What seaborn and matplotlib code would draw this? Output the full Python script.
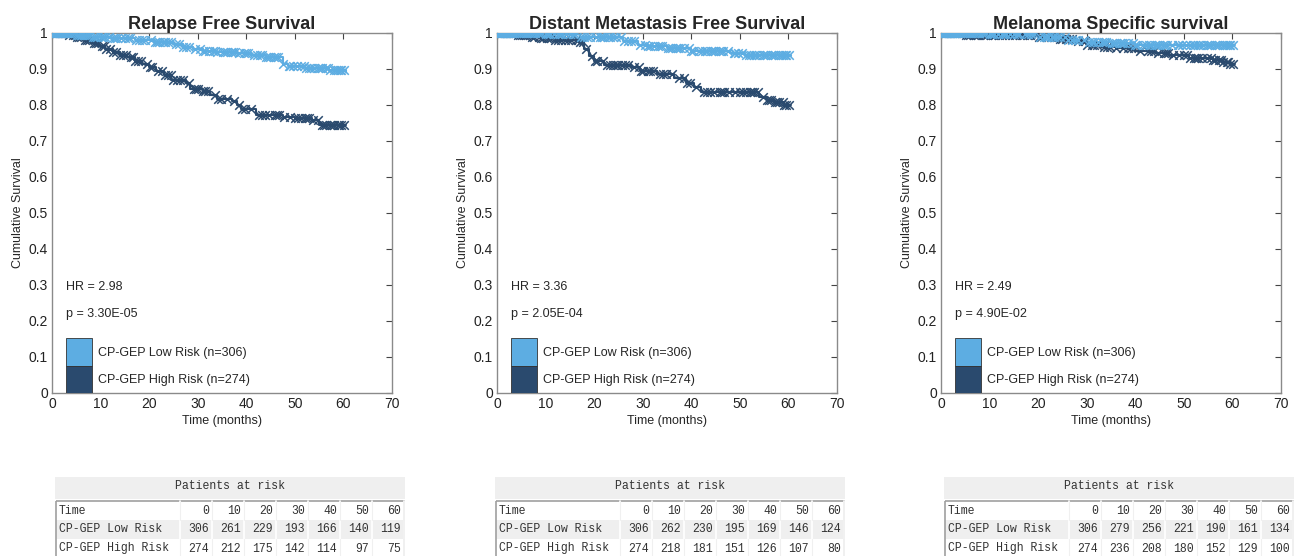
import numpy as np
import pandas as pd
import matplotlib
matplotlib.use("Agg")
import matplotlib.pyplot as plt
from matplotlib.patches import Rectangle
import seaborn as sns

# Panel titles and stats
titles = ["Relapse Free Survival", "Distant Metastasis Free Survival", "Melanoma Specific survival"]
hr_text = ["HR = 2.98", "HR = 3.36", "HR = 2.49"]
p_text = ["p = 3.30E-05", "p = 2.05E-04", "p = 4.90E-02"]

# Kaplan-Meier step knots (time in months, survival)
low_t = [
    [0, 5, 8, 12, 17, 21, 25, 27, 29, 31, 34, 38, 41, 44, 47.5, 48.5, 52, 57, 60.5],
    [0, 10, 17, 26, 29, 31, 35, 40, 48, 51, 60.5],
    [0, 10, 20, 26, 30, 35, 40, 60.5],
]
low_s = [
    [1, 0.995, 0.99, 0.985, 0.98, 0.976, 0.97, 0.962, 0.956, 0.95, 0.947, 0.944, 0.938, 0.932, 0.915, 0.908, 0.902, 0.897, 0.892],
    [1, 0.997, 0.988, 0.977, 0.968, 0.963, 0.957, 0.951, 0.945, 0.938, 0.936],
    [1, 0.996, 0.99, 0.981, 0.976, 0.972, 0.968, 0.968],
]
high_t = [
    [0, 3, 5, 6.5, 8, 9.5, 11, 12.5, 14, 15.5, 17, 18.5, 20, 21.5, 23, 24.5, 27.5, 28.5, 31, 32.5, 34, 37, 38, 39, 42, 47.5, 50, 53.5, 55, 60.5],
    [0, 4, 7, 9, 12, 17, 18, 19, 20, 22, 27.5, 29.5, 33, 36.5, 39, 40.5, 42, 54, 55.5, 57, 59, 60.5],
    [0, 5, 20, 24, 27, 30, 33, 36, 40, 44, 47, 51, 56, 58, 59.5, 60.5],
]
high_s = [
    [1, 0.995, 0.99, 0.98, 0.972, 0.963, 0.955, 0.948, 0.94, 0.932, 0.922, 0.915, 0.905, 0.895, 0.883, 0.87, 0.86, 0.845, 0.838, 0.828, 0.818, 0.812, 0.80, 0.79, 0.772, 0.768, 0.763, 0.758, 0.745, 0.745],
    [1, 0.994, 0.99, 0.985, 0.98, 0.975, 0.955, 0.935, 0.922, 0.912, 0.906, 0.895, 0.885, 0.875, 0.862, 0.85, 0.835, 0.822, 0.815, 0.808, 0.80, 0.80],
    [1, 0.995, 0.99, 0.984, 0.977, 0.968, 0.962, 0.957, 0.951, 0.945, 0.939, 0.931, 0.926, 0.92, 0.914, 0.914],
]

# Censoring times (same cohort in all three panels)
low_censor = [0.2, 0.3, 0.5, 0.6, 0.8, 0.9, 1.1, 1.2, 1.4, 1.5, 1.7, 1.8, 2.0, 2.1, 2.3, 2.4, 2.6,
              2.7, 2.9, 3.0, 3.3, 3.6, 4.0, 4.4, 4.8, 5.2, 5.5, 5.9, 6.2, 6.6, 7.0, 7.4, 7.8, 8.5,
              8.9, 9.3, 10.1, 10.6, 11.0, 11.8, 12.5, 13.0, 13.4, 14.2, 15.0, 15.6, 16.1, 17.2,
              18.0, 18.6, 19.1, 20.3, 21.2, 21.6, 22.0, 22.9, 23.3, 23.8, 24.6, 25.5, 26.2, 27.0,
              27.6, 28.2, 29.4, 30.5, 31.0, 31.6, 32.3, 33.1, 33.6, 34.0, 35.2, 35.6, 36.0, 36.9,
              37.3, 37.7, 38.5, 39.6, 40.0, 40.4, 41.5, 42.3, 42.8, 43.2, 44.0, 44.4, 44.9, 45.8,
              46.2, 46.6, 47.5, 48.7, 49.1, 49.6, 50.5, 51.3, 51.8, 52.2, 53.0, 53.4, 53.9, 54.8,
              55.2, 55.6, 56.5, 56.9, 57.3, 58.1, 58.5, 58.9, 59.2, 59.6, 60.2]
high_censor = [0.5, 1.0, 1.6, 2.2, 2.9, 3.5, 4.3, 4.7, 5.1, 5.6, 6.0, 6.8, 7.2, 7.7, 8.6, 9.0, 9.4,
               10.3, 10.8, 11.2, 12.0, 12.6, 13.1, 14.0, 14.6, 15.2, 16.3, 16.7, 17.1, 17.8, 18.4,
               19.5, 20.1, 20.6, 21.8, 22.7, 23.3, 23.9, 24.4, 25.0, 25.8, 26.4, 26.9, 28.3, 29.2,
               29.6, 30.1, 31.0, 31.6, 32.2, 33.5, 34.1, 34.8, 36.1, 37.4, 38.6, 39.2, 39.8, 41.0,
               42.6, 43.2, 43.8, 44.7, 45.9, 46.3, 46.8, 47.7, 49.0, 50.1, 50.6, 51.2, 52.1, 52.5,
               52.9, 53.8, 54.7, 55.6, 56.0, 56.4, 57.2, 57.6, 58.0, 58.8, 59.1, 59.5, 60.1]

# Patients at risk tables
risk_times = [0, 10, 20, 30, 40, 50, 60]
risk_low = [
    [306, 261, 229, 193, 166, 140, 119],
    [306, 262, 230, 195, 169, 146, 124],
    [306, 279, 256, 221, 190, 161, 134],
]
risk_high = [
    [274, 212, 175, 142, 114, 97, 75],
    [274, 218, 181, 151, 126, 107, 80],
    [274, 236, 208, 180, 152, 129, 100],
]

group_labels = ["CP-GEP Low Risk (n=306)", "CP-GEP High Risk (n=274)"]
row_labels = ["Time", "CP-GEP Low Risk", "CP-GEP High Risk"]
ytick_labels = ["0", "0.1", "0.2", "0.3", "0.4", "0.5", "0.6", "0.7", "0.8", "0.9", "1"]

light = "#5DADE2"
dark = "#2A4A6E"

sns.set_style("white")
plt.rcParams["font.family"] = ["Liberation Sans", "DejaVu Sans"]

W, H = 1295, 556
fig = plt.figure(figsize=(W / 100, H / 100), dpi=100)

axes_left = [52, 497, 941]
table_left = [55, 495, 944]


def censor_points(t, s, c):
    idx = np.searchsorted(t, c, side="right") - 1
    return np.asarray(s)[idx]


for i in range(3):
    ax = fig.add_axes([axes_left[i] / W, (H - 393) / H, 340 / W, 360 / H])

    for t, s, col in [(low_t[i], low_s[i], light), (high_t[i], high_s[i], dark)]:
        df = pd.DataFrame({"time": t, "surv": s})
        sns.lineplot(data=df, x="time", y="surv", ax=ax, color=col, lw=1.5,
                     drawstyle="steps-post", estimator=None, sort=False)

    for t, s, cens, col in [(high_t[i], high_s[i], high_censor, dark),
                            (low_t[i], low_s[i], low_censor, light)]:
        cdf = pd.DataFrame({"time": cens, "surv": censor_points(t, s, cens)})
        sns.scatterplot(data=cdf, x="time", y="surv", ax=ax, color=col, marker="x",
                        s=38, linewidth=1.1, zorder=3)

    ax.set_xlim(0, 70)
    ax.set_ylim(0, 1)
    ax.set_xticks(range(0, 71, 10))
    ax.set_yticks(np.arange(0, 1.01, 0.1))
    ax.set_yticklabels(ytick_labels)
    ax.tick_params(direction="in", top=True, right=True, length=4, width=0.8,
                   color="#444444", labelsize=10, labelcolor="#222222", pad=3)
    for sp in ax.spines.values():
        sp.set_visible(True)
        sp.set_color("#8a8a8a")
        sp.set_linewidth(1)
    ax.set_title(titles[i], fontsize=13, fontweight="bold", pad=3)
    ax.set_xlabel("Time (months)", fontsize=9, labelpad=3)
    ax.set_ylabel("Cumulative Survival", fontsize=9, labelpad=3)

    ax.text(0.04, 0.294, hr_text[i], transform=ax.transAxes, fontsize=9, va="center")
    ax.text(0.04, 0.219, p_text[i], transform=ax.transAxes, fontsize=9, va="center")

    # legend boxes
    ax.add_patch(Rectangle((0.041, 0.075), 0.076, 0.077, transform=ax.transAxes,
                           facecolor=light, edgecolor="#333333", lw=0.6, zorder=4))
    ax.add_patch(Rectangle((0.041, 0.0), 0.076, 0.075, transform=ax.transAxes,
                           facecolor=dark, edgecolor="#333333", lw=0.6, zorder=4))
    ax.text(0.135, 0.111, group_labels[0], transform=ax.transAxes, fontsize=9, va="center")
    ax.text(0.135, 0.036, group_labels[1], transform=ax.transAxes, fontsize=9, va="center")

    # patients at risk table, in local pixel coordinates
    tx = fig.add_axes([table_left[i] / W, 0, 350 / W, 79 / H])
    tx.set_xlim(0, 350)
    tx.set_ylim(79, 0)
    tx.axis("off")
    mono = "Liberation Mono"
    tx.add_patch(Rectangle((0, 0), 350, 22, facecolor="#EFEFEF", edgecolor="none"))
    tx.text(175, 9, "Patients at risk", family=mono, fontsize=8.3, ha="center",
            va="center", color="#333333")
    tx.add_patch(Rectangle((1, 43), 348, 19, facecolor="#EFEFEF", edgecolor="none"))
    for k in range(8):
        xe = 125 + 32 * k
        tx.plot([xe, xe], [24, 79], color="#FFFFFF", lw=1.2)
        tx.plot([xe, xe], [24, 43], color="#F0F0F0", lw=0.8)
        tx.plot([xe, xe], [62, 79], color="#F0F0F0", lw=0.8)
    tx.add_patch(Rectangle((1, 23.5), 348, 60, facecolor="none", edgecolor="#A0A0A0",
                           lw=1.2, clip_on=False))
    rows = [risk_times, risk_low[i], risk_high[i]]
    for r in range(3):
        yc = 33.5 + 19 * r
        tx.text(4, yc, row_labels[r], family=mono, fontsize=8.3, va="center", color="#333333")
        for k, v in enumerate(rows[r]):
            tx.text(154 + 32 * k, yc, str(v), family=mono, fontsize=8.3, ha="right",
                    va="center", color="#333333")

fig.savefig("out.png", dpi=100)
